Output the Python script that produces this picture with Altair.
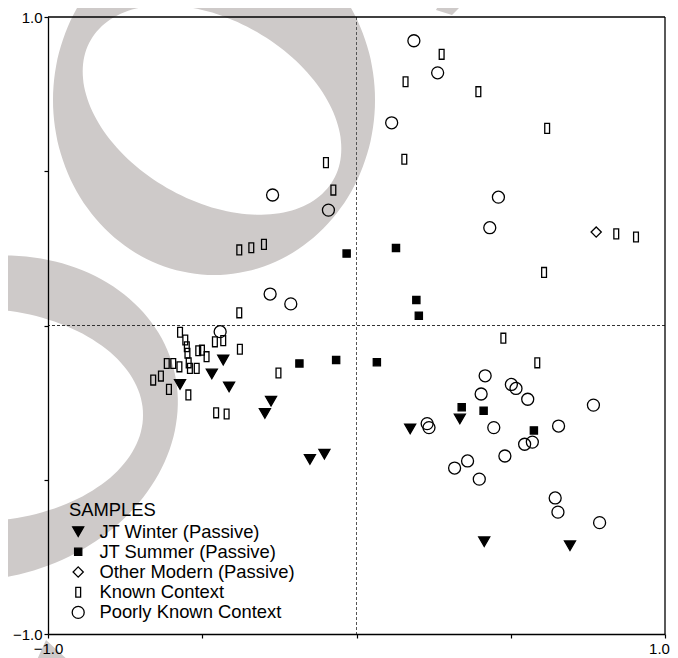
import altair as alt
import pandas as pd
import numpy as np

# ---------------- data ----------------
categories = ["JT Winter (Passive)", "JT Summer (Passive)", "Other Modern (Passive)",
              "Known Context", "Poorly Known Context"]

winter_x = [-0.432, -0.469, -0.572, -0.413, -0.277, -0.297, -0.151, -0.104, 0.174, 0.335, 0.414, 0.692]
winter_y = [-0.112, -0.157, -0.191, -0.199, -0.245, -0.285, -0.434, -0.417, -0.335, -0.303, -0.701, -0.714]

summer_x = [-0.032, 0.128, 0.194, 0.202, 0.066, 0.341, 0.412, 0.575, -0.185, -0.066]
summer_y = [0.233, 0.251, 0.083, 0.032, -0.119, -0.265, -0.276, -0.340, -0.123, -0.112]

other_x = [0.777]
other_y = [0.303]

known_x = [-0.099, -0.075, -0.380, -0.341, -0.300, -0.380, 0.276, 0.159, 0.395, 0.618, 0.155, 0.842,
           0.906, 0.608, 0.476, 0.586, -0.572, -0.555, -0.550, -0.548, -0.459, -0.432, -0.378, -0.513,
           -0.501, -0.486, -0.615, -0.594, -0.574, -0.544, -0.540, -0.518, -0.659, -0.634, -0.608,
           -0.545, -0.455, -0.421, -0.253]
known_y = [0.528, 0.439, 0.245, 0.252, 0.263, 0.041, 0.879, 0.790, 0.758, 0.639, 0.539, 0.297,
           0.287, 0.172, -0.041, -0.121, -0.022, -0.047, -0.069, -0.090, -0.053, -0.049, -0.077, -0.082,
           -0.080, -0.101, -0.123, -0.123, -0.134, -0.121, -0.139, -0.139, -0.177, -0.164, -0.207,
           -0.225, -0.283, -0.287, -0.154]

poor_x = [-0.272, -0.091, -0.280, -0.213, -0.442, 0.186, 0.263, 0.114, 0.460, 0.432, 0.417, 0.502,
          0.517, 0.404, 0.555, 0.768, 0.229, 0.235, 0.445, 0.655, 0.545, 0.570, 0.481, 0.360, 0.318,
          0.398, 0.644, 0.653, 0.788]
poor_y = [0.423, 0.374, 0.102, 0.070, -0.020, 0.923, 0.819, 0.657, 0.416, 0.317, -0.163, -0.191,
          -0.204, -0.222, -0.239, -0.258, -0.318, -0.331, -0.331, -0.326, -0.385, -0.378, -0.423,
          -0.439, -0.462, -0.498, -0.559, -0.605, -0.639]

tick_values = [-1.0, -0.5, 0.0, 0.5, 1.0]

rows = []
for cat, xs, ys in zip(categories,
                       [winter_x, summer_x, other_x, known_x, poor_x],
                       [winter_y, summer_y, other_y, known_y, poor_y]):
    for xv, yv in zip(xs, ys):
        rows.append({"x": xv, "y": yv, "cat": cat})
df = pd.DataFrame(rows)

# ---------------- styling ----------------
W = H = 617
FONT = "Liberation Sans"

tri_down = "M-0.92,-0.8L0.92,-0.8L0,0.8Z"
square = "M-0.6,-0.6L0.6,-0.6L0.6,0.6L-0.6,0.6Z"
diamond = "M0,-0.85L0.85,0L0,0.85L-0.85,0Z"
tall_rect = "M-0.4,-0.82L0.4,-0.82L0.4,0.82L-0.4,0.82Z"
shape_range = [tri_down, square, diamond, tall_rect, "circle"]
fill_range = ["black", "black", "transparent", "transparent", "transparent"]
stroke_range = ["black", "black", "black", "black", "black"]

# decorative grey swooshes (background watermark), in plot-pixel coordinates
OX, OY = 48, 17


def ellipse_path(cx, cy, rx, ry, rot_deg, reverse=False, n=160):
    t = np.linspace(0, 2 * np.pi, n, endpoint=False)
    th = np.radians(rot_deg)
    xs = cx + rx * np.cos(t) * np.cos(th) - ry * np.sin(t) * np.sin(th) - OX
    ys = cy + rx * np.cos(t) * np.sin(th) + ry * np.sin(t) * np.cos(th) - OY
    if reverse:
        xs, ys = xs[::-1], ys[::-1]
    pts = ["%.1f,%.1f" % (a, b) for a, b in zip(xs, ys)]
    return "M" + "L".join(pts) + "Z"


def poly_path(pts):
    return "M" + "L".join("%.1f,%.1f" % (a - OX, b - OY) for a, b in pts) + "Z"


swoosh = (
    ellipse_path(214, 100, 161, 175, 0)
    + ellipse_path(212, 110, 140, 90, 30, reverse=True)
    + ellipse_path(-15, 418, 195, 160, -15)
    + ellipse_path(-30, 415, 173, 107, 0, reverse=True)
    + poly_path([(444, -5), (472, -5), (452, 15), (436, 10)])
    + poly_path([(36, 662), (46, 640), (70, 662)])
)

xscale = alt.Scale(domain=[-1, 1], nice=False, zero=False)
yscale = alt.Scale(domain=[-1, 1], nice=False, zero=False)

label_expr = "abs(datum.value) == 1 ? datum.label : ''"
xaxis = alt.Axis(values=tick_values, format=".1f", labelExpr=label_expr, title=None, grid=False,
                 tickSize=4, labelPadding=3, labelFlush=False, labelOverlap=False, zindex=1,
                 labelOffset={"condition": {"test": "datum.value == 1", "value": -6}, "value": 0},
                 domainColor="black", domainWidth=1.3, tickColor="black", tickWidth=1.2)
yaxis = alt.Axis(values=tick_values, format=".1f", labelExpr=label_expr, title=None, grid=False,
                 tickSize=4, labelPadding=2, labelFlush=False, labelOverlap=False, zindex=1,
                 domainColor="black", domainWidth=1.3, tickColor="black", tickWidth=1.2)

legend = alt.Legend(title="SAMPLES", orient="none", legendX=21, legendY=484)

gray = alt.Chart(alt.Data(values=[{"k": 0}])).mark_point(
    shape=swoosh, size=4, filled=True, color="#cecac9", opacity=1, strokeWidth=0
).encode(x=alt.value(0), y=alt.value(0))

zero_v = alt.Chart(alt.Data(values=[{"k": 0}])).mark_rule(
    color="#555555", strokeDash=[3, 2], strokeWidth=1
).encode(x=alt.X(datum=0, scale=xscale, axis=xaxis))

zero_h = alt.Chart(alt.Data(values=[{"k": 0}])).mark_rule(
    color="#333333", strokeDash=[3, 2], strokeWidth=1
).encode(y=alt.Y(datum=0, scale=yscale, axis=yaxis))

points = alt.Chart(df).mark_point(size=144, opacity=1, strokeWidth=1.3).encode(
    x=alt.X("x:Q", scale=xscale, axis=xaxis),
    y=alt.Y("y:Q", scale=yscale, axis=yaxis),
    shape=alt.Shape("cat:N", scale=alt.Scale(domain=categories, range=shape_range), legend=legend),
    fill=alt.Fill("cat:N", scale=alt.Scale(domain=categories, range=fill_range), legend=legend),
    stroke=alt.Stroke("cat:N", scale=alt.Scale(domain=categories, range=stroke_range), legend=legend),
)

frame_top = alt.Chart(alt.Data(values=[{"k": 0}])).mark_rule(color="black", strokeWidth=1.3).encode(
    x=alt.value(0), x2=alt.value(W), y=alt.value(0))
frame_right = alt.Chart(alt.Data(values=[{"k": 0}])).mark_rule(color="black", strokeWidth=1.3).encode(
    x=alt.value(W), y=alt.value(0), y2=alt.value(H))

chart = alt.layer(gray, zero_v, zero_h, points, frame_top, frame_right).properties(
    width=W, height=H,
    padding={"left": 40, "top": 9, "right": 5, "bottom": 24},
    autosize=alt.AutoSizeParams(type="none"),
    background="white",
).configure_view(strokeWidth=0).configure_axis(
    labelFont=FONT, labelFontSize=15, labelColor="black"
).configure_legend(
    labelFont=FONT, labelFontSize=18.4, labelColor="black", labelOffset=12, labelLimit=400,
    titleFont=FONT, titleFontSize=18.4, titleFontWeight="normal", titleColor="black", titlePadding=3,
    symbolSize=144, symbolStrokeWidth=1.3, rowPadding=1.2, padding=0,
)

chart.save("out.html", embed_options={"renderer": "svg", "actions": False})
